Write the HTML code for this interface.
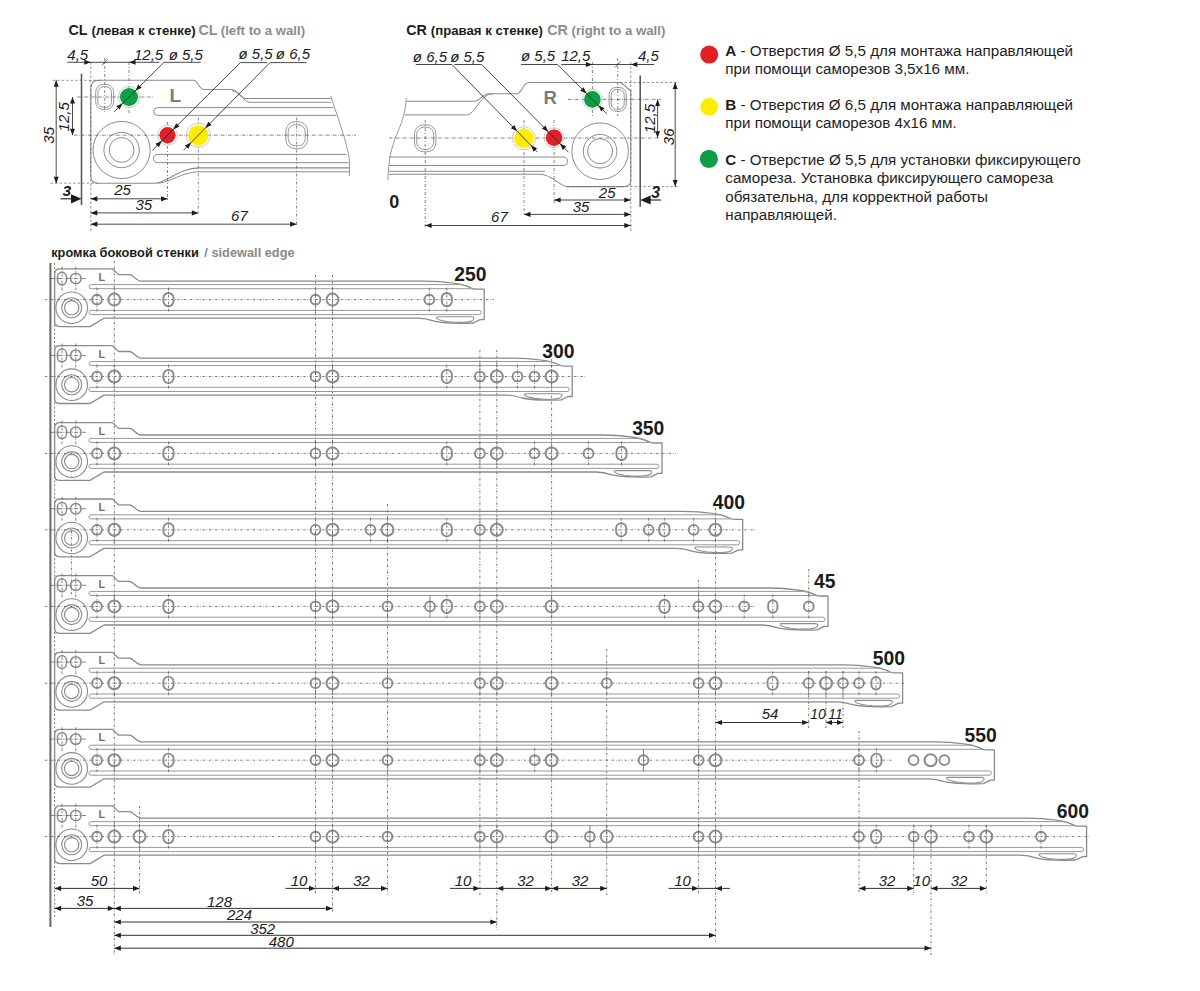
<!DOCTYPE html><html><head><meta charset="utf-8"><style>html,body{margin:0;padding:0;background:#fff;width:1200px;height:991px;overflow:hidden}svg{display:block}text{font-family:"Liberation Sans",sans-serif}</style></head><body>
<svg width="1200" height="991" viewBox="0 0 1200 991">
<rect width="1200" height="991" fill="#fff"/>
<line x1="54.6" y1="263" x2="54.6" y2="917" stroke="#555" stroke-width="0.8" stroke-dasharray="2.1 2"/>
<line x1="71.4" y1="531" x2="71.4" y2="595" stroke="#505050" stroke-width="0.8" stroke-dasharray="2.3 1.6 0.6 1.6"/>
<line x1="114.3" y1="261" x2="114.3" y2="956" stroke="#505050" stroke-width="0.8" stroke-dasharray="2.3 1.6 0.6 1.6"/>
<line x1="139.5" y1="806" x2="139.5" y2="895" stroke="#505050" stroke-width="0.8" stroke-dasharray="2.3 1.6 0.6 1.6"/>
<line x1="315.5" y1="275" x2="315.5" y2="895" stroke="#505050" stroke-width="0.8" stroke-dasharray="2.3 1.6 0.6 1.6"/>
<line x1="332.5" y1="275" x2="332.5" y2="912" stroke="#505050" stroke-width="0.8" stroke-dasharray="2.3 1.6 0.6 1.6"/>
<line x1="387.5" y1="504" x2="387.5" y2="895" stroke="#505050" stroke-width="0.8" stroke-dasharray="2.3 1.6 0.6 1.6"/>
<line x1="479.9" y1="350" x2="479.9" y2="895" stroke="#505050" stroke-width="0.8" stroke-dasharray="2.3 1.6 0.6 1.6"/>
<line x1="496.8" y1="350" x2="496.8" y2="930" stroke="#505050" stroke-width="0.8" stroke-dasharray="2.3 1.6 0.6 1.6"/>
<line x1="551.6" y1="359" x2="551.6" y2="895" stroke="#505050" stroke-width="0.8" stroke-dasharray="2.3 1.6 0.6 1.6"/>
<line x1="606.7" y1="649" x2="606.7" y2="895" stroke="#505050" stroke-width="0.8" stroke-dasharray="2.3 1.6 0.6 1.6"/>
<line x1="698.6" y1="580" x2="698.6" y2="895" stroke="#505050" stroke-width="0.8" stroke-dasharray="2.3 1.6 0.6 1.6"/>
<line x1="715.5" y1="508" x2="715.5" y2="942" stroke="#505050" stroke-width="0.8" stroke-dasharray="2.3 1.6 0.6 1.6"/>
<line x1="808.7" y1="569" x2="808.7" y2="598" stroke="#505050" stroke-width="0.8" stroke-dasharray="2.3 1.6 0.6 1.6"/>
<line x1="808.7" y1="671" x2="808.7" y2="728" stroke="#505050" stroke-width="0.8" stroke-dasharray="2.3 1.6 0.6 1.6"/>
<line x1="826" y1="671" x2="826" y2="728" stroke="#505050" stroke-width="0.8" stroke-dasharray="2.3 1.6 0.6 1.6"/>
<line x1="843" y1="671" x2="843" y2="728" stroke="#505050" stroke-width="0.8" stroke-dasharray="2.3 1.6 0.6 1.6"/>
<line x1="859" y1="731" x2="859" y2="893" stroke="#505050" stroke-width="0.8" stroke-dasharray="2.3 1.6 0.6 1.6"/>
<line x1="913.7" y1="825" x2="913.7" y2="893" stroke="#505050" stroke-width="0.8" stroke-dasharray="2.3 1.6 0.6 1.6"/>
<line x1="931" y1="825" x2="931" y2="955" stroke="#505050" stroke-width="0.8" stroke-dasharray="2.3 1.6 0.6 1.6"/>
<line x1="986.3" y1="825" x2="986.3" y2="893" stroke="#505050" stroke-width="0.8" stroke-dasharray="2.3 1.6 0.6 1.6"/>
<line x1="50.4" y1="263" x2="50.4" y2="927" stroke="#6a6a6a" stroke-width="2"/>
<path d="M54.6,274.1 Q54.6,268.8 60,268.8 L112.5,268.8 L118.5,274.6 L129,274.6 C134,274.6 136,281.2 141,281.2 L424.2,281.2 C449.2,281.6 464.2,284.6 470.2,287.6 Q473.2,289.2 476.2,289.2 L484.2,289.2 L484.2,319.6 L480.2,319.6 L473.2,323 C459.2,323.6 444.2,323.1 434.2,321.1 C428.2,319.1 424.2,318.2 418.2,318.2 L104,318.2 L90,326.6 L60,326.6 Q54.6,326.6 54.6,321.6 Z" stroke="#8a8a8a" stroke-width="1.3" fill="none" stroke-linejoin="round"/>
<path d="M463.2,284.6 L91,284.6 Q89,284.6 89,286.7 Q89,288.7 91,288.7 L473.2,288.7" stroke="#999" stroke-width="1.0" fill="none" stroke-linejoin="round"/>
<path d="M91,310.4 L479.2,310.4 Q481.2,310.4 481.2,312.5 Q481.2,314.6 479.2,314.6 L91,314.6 Q89,314.6 89,312.5 Q89,310.4 91,310.4 Z" stroke="#999" stroke-width="1.0" fill="none" stroke-linejoin="round"/>
<path d="M438.2,316.8 L471.2,316.8 Q476.2,317.2 472.2,320.8 Q468.2,322.8 454.2,322.2 Q440.2,321.2 437.2,318.6 Q435.2,316.8 438.2,316.8 Z" stroke="#8e8e8e" stroke-width="1.1" fill="none" stroke-linejoin="round"/>
<circle cx="71.7" cy="307.8" r="15.8" stroke="#8a8a8a" stroke-width="1.1" fill="none"/>
<circle cx="71.7" cy="307.8" r="10" stroke="#8a8a8a" stroke-width="1.1" fill="none"/>
<circle cx="71.7" cy="307.8" r="7.2" stroke="#8a8a8a" stroke-width="1.1" fill="none"/>
<rect x="57.5" y="272.2" width="9" height="12.6" rx="4.5" ry="4.5" stroke="#8a8a8a" stroke-width="1.5" fill="none"/>
<circle cx="75.8" cy="278.5" r="5.3" stroke="#8a8a8a" stroke-width="1.5" fill="none"/>
<line x1="50" y1="278.5" x2="87" y2="278.5" stroke="#555" stroke-width="0.7" stroke-dasharray="4 1.5 1 1.5"/>
<line x1="62" y1="266.6" x2="62" y2="290.6" stroke="#555" stroke-width="0.7" stroke-dasharray="3 1.5 1 1.5"/>
<line x1="75.8" y1="266.6" x2="75.8" y2="290.6" stroke="#555" stroke-width="0.7" stroke-dasharray="3 1.5 1 1.5"/>
<text x="98.6" y="280.8" font-size="10.8" font-weight="bold" font-style="normal" fill="#707070" text-anchor="start" >L</text>
<line x1="45" y1="299.6" x2="494" y2="299.6" stroke="#555" stroke-width="0.8" stroke-dasharray="2.3 1.7 0.6 1.7"/>
<circle cx="97" cy="299.6" r="4.9" stroke="#8a8a8a" stroke-width="1.9" fill="none"/>
<line x1="97" y1="287.6" x2="97" y2="311.6" stroke="#555" stroke-width="0.7" stroke-dasharray="3 1.5 1 1.5"/>
<circle cx="114.3" cy="299.6" r="6" stroke="#8a8a8a" stroke-width="2.0" fill="none"/>
<line x1="114.3" y1="287.6" x2="114.3" y2="311.6" stroke="#555" stroke-width="0.7" stroke-dasharray="3 1.5 1 1.5"/>
<rect x="163.4" y="293" width="10.2" height="13.2" rx="5.1" ry="5.1" stroke="#8a8a8a" stroke-width="1.9" fill="none"/>
<line x1="168.5" y1="287.6" x2="168.5" y2="311.6" stroke="#555" stroke-width="0.7" stroke-dasharray="3 1.5 1 1.5"/>
<circle cx="315.5" cy="299.6" r="4.9" stroke="#8a8a8a" stroke-width="1.9" fill="none"/>
<line x1="315.5" y1="287.6" x2="315.5" y2="311.6" stroke="#555" stroke-width="0.7" stroke-dasharray="3 1.5 1 1.5"/>
<circle cx="332.5" cy="299.6" r="6" stroke="#8a8a8a" stroke-width="2.0" fill="none"/>
<line x1="332.5" y1="287.6" x2="332.5" y2="311.6" stroke="#555" stroke-width="0.7" stroke-dasharray="3 1.5 1 1.5"/>
<circle cx="429.3" cy="299.6" r="4.9" stroke="#8a8a8a" stroke-width="1.9" fill="none"/>
<line x1="429.3" y1="287.6" x2="429.3" y2="311.6" stroke="#555" stroke-width="0.7" stroke-dasharray="3 1.5 1 1.5"/>
<rect x="441.7" y="293" width="10.2" height="13.2" rx="5.1" ry="5.1" stroke="#8a8a8a" stroke-width="1.9" fill="none"/>
<line x1="446.8" y1="287.6" x2="446.8" y2="311.6" stroke="#555" stroke-width="0.7" stroke-dasharray="3 1.5 1 1.5"/>
<text x="486.5" y="280.7" font-size="19.3" font-weight="bold" font-style="normal" fill="#1c1c1c" text-anchor="end" >250</text>
<path d="M54.6,351 Q54.6,345.7 60,345.7 L112.5,345.7 L118.5,351.5 L129,351.5 C134,351.5 136,358.1 141,358.1 L512.2,358.1 C537.2,358.5 552.2,361.5 558.2,364.5 Q561.2,366.1 564.2,366.1 L572.2,366.1 L572.2,396.5 L568.2,396.5 L561.2,399.9 C547.2,400.5 532.2,400 522.2,398 C516.2,396 512.2,395.1 506.2,395.1 L104,395.1 L90,403.5 L60,403.5 Q54.6,403.5 54.6,398.5 Z" stroke="#8a8a8a" stroke-width="1.3" fill="none" stroke-linejoin="round"/>
<path d="M551.2,361.5 L91,361.5 Q89,361.5 89,363.6 Q89,365.6 91,365.6 L561.2,365.6" stroke="#999" stroke-width="1.0" fill="none" stroke-linejoin="round"/>
<path d="M91,387.3 L567.2,387.3 Q569.2,387.3 569.2,389.4 Q569.2,391.5 567.2,391.5 L91,391.5 Q89,391.5 89,389.4 Q89,387.3 91,387.3 Z" stroke="#999" stroke-width="1.0" fill="none" stroke-linejoin="round"/>
<path d="M526.2,393.7 L559.2,393.7 Q564.2,394.1 560.2,397.7 Q556.2,399.7 542.2,399.1 Q528.2,398.1 525.2,395.5 Q523.2,393.7 526.2,393.7 Z" stroke="#8e8e8e" stroke-width="1.1" fill="none" stroke-linejoin="round"/>
<circle cx="71.7" cy="384.7" r="15.8" stroke="#8a8a8a" stroke-width="1.1" fill="none"/>
<circle cx="71.7" cy="384.7" r="10" stroke="#8a8a8a" stroke-width="1.1" fill="none"/>
<circle cx="71.7" cy="384.7" r="7.2" stroke="#8a8a8a" stroke-width="1.1" fill="none"/>
<rect x="57.5" y="349.1" width="9" height="12.6" rx="4.5" ry="4.5" stroke="#8a8a8a" stroke-width="1.5" fill="none"/>
<circle cx="75.8" cy="355.4" r="5.3" stroke="#8a8a8a" stroke-width="1.5" fill="none"/>
<line x1="50" y1="355.4" x2="87" y2="355.4" stroke="#555" stroke-width="0.7" stroke-dasharray="4 1.5 1 1.5"/>
<line x1="62" y1="343.5" x2="62" y2="367.5" stroke="#555" stroke-width="0.7" stroke-dasharray="3 1.5 1 1.5"/>
<line x1="75.8" y1="343.5" x2="75.8" y2="367.5" stroke="#555" stroke-width="0.7" stroke-dasharray="3 1.5 1 1.5"/>
<text x="98.6" y="357.7" font-size="10.8" font-weight="bold" font-style="normal" fill="#707070" text-anchor="start" >L</text>
<line x1="45" y1="376.5" x2="586" y2="376.5" stroke="#555" stroke-width="0.8" stroke-dasharray="2.3 1.7 0.6 1.7"/>
<circle cx="97" cy="376.5" r="4.9" stroke="#8a8a8a" stroke-width="1.9" fill="none"/>
<line x1="97" y1="364.5" x2="97" y2="388.5" stroke="#555" stroke-width="0.7" stroke-dasharray="3 1.5 1 1.5"/>
<circle cx="114.3" cy="376.5" r="6" stroke="#8a8a8a" stroke-width="2.0" fill="none"/>
<line x1="114.3" y1="364.5" x2="114.3" y2="388.5" stroke="#555" stroke-width="0.7" stroke-dasharray="3 1.5 1 1.5"/>
<rect x="163.4" y="369.9" width="10.2" height="13.2" rx="5.1" ry="5.1" stroke="#8a8a8a" stroke-width="1.9" fill="none"/>
<line x1="168.5" y1="364.5" x2="168.5" y2="388.5" stroke="#555" stroke-width="0.7" stroke-dasharray="3 1.5 1 1.5"/>
<circle cx="315.5" cy="376.5" r="4.9" stroke="#8a8a8a" stroke-width="1.9" fill="none"/>
<line x1="315.5" y1="364.5" x2="315.5" y2="388.5" stroke="#555" stroke-width="0.7" stroke-dasharray="3 1.5 1 1.5"/>
<circle cx="332.5" cy="376.5" r="6" stroke="#8a8a8a" stroke-width="2.0" fill="none"/>
<line x1="332.5" y1="364.5" x2="332.5" y2="388.5" stroke="#555" stroke-width="0.7" stroke-dasharray="3 1.5 1 1.5"/>
<rect x="441.7" y="369.9" width="10.2" height="13.2" rx="5.1" ry="5.1" stroke="#8a8a8a" stroke-width="1.9" fill="none"/>
<line x1="446.8" y1="364.5" x2="446.8" y2="388.5" stroke="#555" stroke-width="0.7" stroke-dasharray="3 1.5 1 1.5"/>
<circle cx="479.9" cy="376.5" r="4.9" stroke="#8a8a8a" stroke-width="1.9" fill="none"/>
<line x1="479.9" y1="364.5" x2="479.9" y2="388.5" stroke="#555" stroke-width="0.7" stroke-dasharray="3 1.5 1 1.5"/>
<circle cx="496.8" cy="376.5" r="6" stroke="#8a8a8a" stroke-width="2.0" fill="none"/>
<line x1="496.8" y1="364.5" x2="496.8" y2="388.5" stroke="#555" stroke-width="0.7" stroke-dasharray="3 1.5 1 1.5"/>
<circle cx="517.5" cy="376.5" r="4.9" stroke="#8a8a8a" stroke-width="1.9" fill="none"/>
<line x1="517.5" y1="364.5" x2="517.5" y2="388.5" stroke="#555" stroke-width="0.7" stroke-dasharray="3 1.5 1 1.5"/>
<circle cx="534.5" cy="376.5" r="4.9" stroke="#8a8a8a" stroke-width="1.9" fill="none"/>
<line x1="534.5" y1="364.5" x2="534.5" y2="388.5" stroke="#555" stroke-width="0.7" stroke-dasharray="3 1.5 1 1.5"/>
<circle cx="551.6" cy="376.5" r="6" stroke="#8a8a8a" stroke-width="2.0" fill="none"/>
<line x1="551.6" y1="364.5" x2="551.6" y2="388.5" stroke="#555" stroke-width="0.7" stroke-dasharray="3 1.5 1 1.5"/>
<text x="574.5" y="357.6" font-size="19.3" font-weight="bold" font-style="normal" fill="#1c1c1c" text-anchor="end" >300</text>
<path d="M54.6,427.9 Q54.6,422.6 60,422.6 L112.5,422.6 L118.5,428.4 L129,428.4 C134,428.4 136,435 141,435 L602,435 C627,435.4 642,438.4 648,441.4 Q651,443 654,443 L662,443 L662,473.4 L658,473.4 L651,476.8 C637,477.4 622,476.9 612,474.9 C606,472.9 602,472 596,472 L104,472 L90,480.4 L60,480.4 Q54.6,480.4 54.6,475.4 Z" stroke="#8a8a8a" stroke-width="1.3" fill="none" stroke-linejoin="round"/>
<path d="M641,438.4 L91,438.4 Q89,438.4 89,440.5 Q89,442.5 91,442.5 L651,442.5" stroke="#999" stroke-width="1.0" fill="none" stroke-linejoin="round"/>
<path d="M91,464.2 L657,464.2 Q659,464.2 659,466.3 Q659,468.4 657,468.4 L91,468.4 Q89,468.4 89,466.3 Q89,464.2 91,464.2 Z" stroke="#999" stroke-width="1.0" fill="none" stroke-linejoin="round"/>
<path d="M616,470.6 L649,470.6 Q654,471 650,474.6 Q646,476.6 632,476 Q618,475 615,472.4 Q613,470.6 616,470.6 Z" stroke="#8e8e8e" stroke-width="1.1" fill="none" stroke-linejoin="round"/>
<circle cx="71.7" cy="461.6" r="15.8" stroke="#8a8a8a" stroke-width="1.1" fill="none"/>
<circle cx="71.7" cy="461.6" r="10" stroke="#8a8a8a" stroke-width="1.1" fill="none"/>
<circle cx="71.7" cy="461.6" r="7.2" stroke="#8a8a8a" stroke-width="1.1" fill="none"/>
<rect x="57.5" y="426" width="9" height="12.6" rx="4.5" ry="4.5" stroke="#8a8a8a" stroke-width="1.5" fill="none"/>
<circle cx="75.8" cy="432.3" r="5.3" stroke="#8a8a8a" stroke-width="1.5" fill="none"/>
<line x1="50" y1="432.3" x2="87" y2="432.3" stroke="#555" stroke-width="0.7" stroke-dasharray="4 1.5 1 1.5"/>
<line x1="62" y1="420.4" x2="62" y2="444.4" stroke="#555" stroke-width="0.7" stroke-dasharray="3 1.5 1 1.5"/>
<line x1="75.8" y1="420.4" x2="75.8" y2="444.4" stroke="#555" stroke-width="0.7" stroke-dasharray="3 1.5 1 1.5"/>
<text x="98.6" y="434.6" font-size="10.8" font-weight="bold" font-style="normal" fill="#707070" text-anchor="start" >L</text>
<line x1="45" y1="453.4" x2="676" y2="453.4" stroke="#555" stroke-width="0.8" stroke-dasharray="2.3 1.7 0.6 1.7"/>
<circle cx="97" cy="453.4" r="4.9" stroke="#8a8a8a" stroke-width="1.9" fill="none"/>
<line x1="97" y1="441.4" x2="97" y2="465.4" stroke="#555" stroke-width="0.7" stroke-dasharray="3 1.5 1 1.5"/>
<circle cx="114.3" cy="453.4" r="6" stroke="#8a8a8a" stroke-width="2.0" fill="none"/>
<line x1="114.3" y1="441.4" x2="114.3" y2="465.4" stroke="#555" stroke-width="0.7" stroke-dasharray="3 1.5 1 1.5"/>
<rect x="163.4" y="446.8" width="10.2" height="13.2" rx="5.1" ry="5.1" stroke="#8a8a8a" stroke-width="1.9" fill="none"/>
<line x1="168.5" y1="441.4" x2="168.5" y2="465.4" stroke="#555" stroke-width="0.7" stroke-dasharray="3 1.5 1 1.5"/>
<circle cx="315.5" cy="453.4" r="4.9" stroke="#8a8a8a" stroke-width="1.9" fill="none"/>
<line x1="315.5" y1="441.4" x2="315.5" y2="465.4" stroke="#555" stroke-width="0.7" stroke-dasharray="3 1.5 1 1.5"/>
<circle cx="332.5" cy="453.4" r="6" stroke="#8a8a8a" stroke-width="2.0" fill="none"/>
<line x1="332.5" y1="441.4" x2="332.5" y2="465.4" stroke="#555" stroke-width="0.7" stroke-dasharray="3 1.5 1 1.5"/>
<rect x="441.7" y="446.8" width="10.2" height="13.2" rx="5.1" ry="5.1" stroke="#8a8a8a" stroke-width="1.9" fill="none"/>
<line x1="446.8" y1="441.4" x2="446.8" y2="465.4" stroke="#555" stroke-width="0.7" stroke-dasharray="3 1.5 1 1.5"/>
<circle cx="479.9" cy="453.4" r="4.9" stroke="#8a8a8a" stroke-width="1.9" fill="none"/>
<line x1="479.9" y1="441.4" x2="479.9" y2="465.4" stroke="#555" stroke-width="0.7" stroke-dasharray="3 1.5 1 1.5"/>
<circle cx="496.8" cy="453.4" r="6" stroke="#8a8a8a" stroke-width="2.0" fill="none"/>
<line x1="496.8" y1="441.4" x2="496.8" y2="465.4" stroke="#555" stroke-width="0.7" stroke-dasharray="3 1.5 1 1.5"/>
<circle cx="534.5" cy="453.4" r="4.9" stroke="#8a8a8a" stroke-width="1.9" fill="none"/>
<line x1="534.5" y1="441.4" x2="534.5" y2="465.4" stroke="#555" stroke-width="0.7" stroke-dasharray="3 1.5 1 1.5"/>
<circle cx="551.6" cy="453.4" r="6" stroke="#8a8a8a" stroke-width="2.0" fill="none"/>
<line x1="551.6" y1="441.4" x2="551.6" y2="465.4" stroke="#555" stroke-width="0.7" stroke-dasharray="3 1.5 1 1.5"/>
<circle cx="588.5" cy="453.4" r="4.9" stroke="#8a8a8a" stroke-width="1.9" fill="none"/>
<line x1="588.5" y1="441.4" x2="588.5" y2="465.4" stroke="#555" stroke-width="0.7" stroke-dasharray="3 1.5 1 1.5"/>
<rect x="616.4" y="446.8" width="10.2" height="13.2" rx="5.1" ry="5.1" stroke="#8a8a8a" stroke-width="1.9" fill="none"/>
<line x1="621.5" y1="441.4" x2="621.5" y2="465.4" stroke="#555" stroke-width="0.7" stroke-dasharray="3 1.5 1 1.5"/>
<text x="664.3" y="434.5" font-size="19.3" font-weight="bold" font-style="normal" fill="#1c1c1c" text-anchor="end" >350</text>
<path d="M54.6,504.3 Q54.6,499 60,499 L112.5,499 L118.5,504.8 L129,504.8 C134,504.8 136,511.4 141,511.4 L682.7,511.4 C707.7,511.8 722.7,514.8 728.7,517.8 Q731.7,519.4 734.7,519.4 L742.7,519.4 L742.7,549.8 L738.7,549.8 L731.7,553.2 C717.7,553.8 702.7,553.3 692.7,551.3 C686.7,549.3 682.7,548.4 676.7,548.4 L104,548.4 L90,556.8 L60,556.8 Q54.6,556.8 54.6,551.8 Z" stroke="#8a8a8a" stroke-width="1.3" fill="none" stroke-linejoin="round"/>
<path d="M721.7,514.8 L91,514.8 Q89,514.8 89,516.9 Q89,518.9 91,518.9 L731.7,518.9" stroke="#999" stroke-width="1.0" fill="none" stroke-linejoin="round"/>
<path d="M91,540.6 L737.7,540.6 Q739.7,540.6 739.7,542.7 Q739.7,544.8 737.7,544.8 L91,544.8 Q89,544.8 89,542.7 Q89,540.6 91,540.6 Z" stroke="#999" stroke-width="1.0" fill="none" stroke-linejoin="round"/>
<path d="M696.7,547 L729.7,547 Q734.7,547.4 730.7,551 Q726.7,553 712.7,552.4 Q698.7,551.4 695.7,548.8 Q693.7,547 696.7,547 Z" stroke="#8e8e8e" stroke-width="1.1" fill="none" stroke-linejoin="round"/>
<circle cx="71.7" cy="538" r="15.8" stroke="#8a8a8a" stroke-width="1.1" fill="none"/>
<circle cx="71.7" cy="538" r="10" stroke="#8a8a8a" stroke-width="1.1" fill="none"/>
<circle cx="71.7" cy="538" r="7.2" stroke="#8a8a8a" stroke-width="1.1" fill="none"/>
<rect x="57.5" y="502.4" width="9" height="12.6" rx="4.5" ry="4.5" stroke="#8a8a8a" stroke-width="1.5" fill="none"/>
<circle cx="75.8" cy="508.7" r="5.3" stroke="#8a8a8a" stroke-width="1.5" fill="none"/>
<line x1="50" y1="508.7" x2="87" y2="508.7" stroke="#555" stroke-width="0.7" stroke-dasharray="4 1.5 1 1.5"/>
<line x1="62" y1="496.8" x2="62" y2="520.8" stroke="#555" stroke-width="0.7" stroke-dasharray="3 1.5 1 1.5"/>
<line x1="75.8" y1="496.8" x2="75.8" y2="520.8" stroke="#555" stroke-width="0.7" stroke-dasharray="3 1.5 1 1.5"/>
<text x="98.6" y="511" font-size="10.8" font-weight="bold" font-style="normal" fill="#707070" text-anchor="start" >L</text>
<line x1="45" y1="529.8" x2="757" y2="529.8" stroke="#555" stroke-width="0.8" stroke-dasharray="2.3 1.7 0.6 1.7"/>
<circle cx="97" cy="529.8" r="4.9" stroke="#8a8a8a" stroke-width="1.9" fill="none"/>
<line x1="97" y1="517.8" x2="97" y2="541.8" stroke="#555" stroke-width="0.7" stroke-dasharray="3 1.5 1 1.5"/>
<circle cx="114.3" cy="529.8" r="6" stroke="#8a8a8a" stroke-width="2.0" fill="none"/>
<line x1="114.3" y1="517.8" x2="114.3" y2="541.8" stroke="#555" stroke-width="0.7" stroke-dasharray="3 1.5 1 1.5"/>
<rect x="163.4" y="523.2" width="10.2" height="13.2" rx="5.1" ry="5.1" stroke="#8a8a8a" stroke-width="1.9" fill="none"/>
<line x1="168.5" y1="517.8" x2="168.5" y2="541.8" stroke="#555" stroke-width="0.7" stroke-dasharray="3 1.5 1 1.5"/>
<circle cx="315.5" cy="529.8" r="4.9" stroke="#8a8a8a" stroke-width="1.9" fill="none"/>
<line x1="315.5" y1="517.8" x2="315.5" y2="541.8" stroke="#555" stroke-width="0.7" stroke-dasharray="3 1.5 1 1.5"/>
<circle cx="332.5" cy="529.8" r="6" stroke="#8a8a8a" stroke-width="2.0" fill="none"/>
<line x1="332.5" y1="517.8" x2="332.5" y2="541.8" stroke="#555" stroke-width="0.7" stroke-dasharray="3 1.5 1 1.5"/>
<circle cx="370.5" cy="529.8" r="4.9" stroke="#8a8a8a" stroke-width="1.9" fill="none"/>
<line x1="370.5" y1="517.8" x2="370.5" y2="541.8" stroke="#555" stroke-width="0.7" stroke-dasharray="3 1.5 1 1.5"/>
<circle cx="387.5" cy="529.8" r="6" stroke="#8a8a8a" stroke-width="2.0" fill="none"/>
<line x1="387.5" y1="517.8" x2="387.5" y2="541.8" stroke="#555" stroke-width="0.7" stroke-dasharray="3 1.5 1 1.5"/>
<rect x="441.7" y="523.2" width="10.2" height="13.2" rx="5.1" ry="5.1" stroke="#8a8a8a" stroke-width="1.9" fill="none"/>
<line x1="446.8" y1="517.8" x2="446.8" y2="541.8" stroke="#555" stroke-width="0.7" stroke-dasharray="3 1.5 1 1.5"/>
<circle cx="479.9" cy="529.8" r="4.9" stroke="#8a8a8a" stroke-width="1.9" fill="none"/>
<line x1="479.9" y1="517.8" x2="479.9" y2="541.8" stroke="#555" stroke-width="0.7" stroke-dasharray="3 1.5 1 1.5"/>
<circle cx="496.8" cy="529.8" r="6" stroke="#8a8a8a" stroke-width="2.0" fill="none"/>
<line x1="496.8" y1="517.8" x2="496.8" y2="541.8" stroke="#555" stroke-width="0.7" stroke-dasharray="3 1.5 1 1.5"/>
<rect x="616.1" y="523.2" width="10.2" height="13.2" rx="5.1" ry="5.1" stroke="#8a8a8a" stroke-width="1.9" fill="none"/>
<line x1="621.2" y1="517.8" x2="621.2" y2="541.8" stroke="#555" stroke-width="0.7" stroke-dasharray="3 1.5 1 1.5"/>
<circle cx="648.7" cy="529.8" r="4.9" stroke="#8a8a8a" stroke-width="1.9" fill="none"/>
<line x1="648.7" y1="517.8" x2="648.7" y2="541.8" stroke="#555" stroke-width="0.7" stroke-dasharray="3 1.5 1 1.5"/>
<rect x="659.3" y="523.2" width="10.2" height="13.2" rx="5.1" ry="5.1" stroke="#8a8a8a" stroke-width="1.9" fill="none"/>
<line x1="664.4" y1="517.8" x2="664.4" y2="541.8" stroke="#555" stroke-width="0.7" stroke-dasharray="3 1.5 1 1.5"/>
<circle cx="693.7" cy="529.8" r="4.9" stroke="#8a8a8a" stroke-width="1.9" fill="none"/>
<line x1="693.7" y1="517.8" x2="693.7" y2="541.8" stroke="#555" stroke-width="0.7" stroke-dasharray="3 1.5 1 1.5"/>
<circle cx="715.4" cy="529.8" r="6" stroke="#8a8a8a" stroke-width="2.0" fill="none"/>
<line x1="715.4" y1="517.8" x2="715.4" y2="541.8" stroke="#555" stroke-width="0.7" stroke-dasharray="3 1.5 1 1.5"/>
<text x="745" y="509.4" font-size="19.3" font-weight="bold" font-style="normal" fill="#1c1c1c" text-anchor="end" >400</text>
<path d="M54.6,580.9 Q54.6,575.6 60,575.6 L112.5,575.6 L118.5,581.4 L129,581.4 C134,581.4 136,588 141,588 L768,588 C793,588.4 808,591.4 814,594.4 Q817,596 820,596 L828,596 L828,626.4 L824,626.4 L817,629.8 C803,630.4 788,629.9 778,627.9 C772,625.9 768,625 762,625 L104,625 L90,633.4 L60,633.4 Q54.6,633.4 54.6,628.4 Z" stroke="#8a8a8a" stroke-width="1.3" fill="none" stroke-linejoin="round"/>
<path d="M807,591.4 L91,591.4 Q89,591.4 89,593.5 Q89,595.5 91,595.5 L817,595.5" stroke="#999" stroke-width="1.0" fill="none" stroke-linejoin="round"/>
<path d="M91,617.2 L823,617.2 Q825,617.2 825,619.3 Q825,621.4 823,621.4 L91,621.4 Q89,621.4 89,619.3 Q89,617.2 91,617.2 Z" stroke="#999" stroke-width="1.0" fill="none" stroke-linejoin="round"/>
<path d="M782,623.6 L815,623.6 Q820,624 816,627.6 Q812,629.6 798,629 Q784,628 781,625.4 Q779,623.6 782,623.6 Z" stroke="#8e8e8e" stroke-width="1.1" fill="none" stroke-linejoin="round"/>
<circle cx="71.7" cy="614.6" r="15.8" stroke="#8a8a8a" stroke-width="1.1" fill="none"/>
<circle cx="71.7" cy="614.6" r="10" stroke="#8a8a8a" stroke-width="1.1" fill="none"/>
<circle cx="71.7" cy="614.6" r="7.2" stroke="#8a8a8a" stroke-width="1.1" fill="none"/>
<rect x="57.5" y="579" width="9" height="12.6" rx="4.5" ry="4.5" stroke="#8a8a8a" stroke-width="1.5" fill="none"/>
<circle cx="75.8" cy="585.3" r="5.3" stroke="#8a8a8a" stroke-width="1.5" fill="none"/>
<line x1="50" y1="585.3" x2="87" y2="585.3" stroke="#555" stroke-width="0.7" stroke-dasharray="4 1.5 1 1.5"/>
<line x1="62" y1="573.4" x2="62" y2="597.4" stroke="#555" stroke-width="0.7" stroke-dasharray="3 1.5 1 1.5"/>
<line x1="75.8" y1="573.4" x2="75.8" y2="597.4" stroke="#555" stroke-width="0.7" stroke-dasharray="3 1.5 1 1.5"/>
<text x="98.6" y="587.6" font-size="10.8" font-weight="bold" font-style="normal" fill="#707070" text-anchor="start" >L</text>
<line x1="45" y1="606.4" x2="755" y2="606.4" stroke="#555" stroke-width="0.8" stroke-dasharray="2.3 1.7 0.6 1.7"/>
<circle cx="97" cy="606.4" r="4.9" stroke="#8a8a8a" stroke-width="1.9" fill="none"/>
<line x1="97" y1="594.4" x2="97" y2="618.4" stroke="#555" stroke-width="0.7" stroke-dasharray="3 1.5 1 1.5"/>
<circle cx="114.3" cy="606.4" r="6" stroke="#8a8a8a" stroke-width="2.0" fill="none"/>
<line x1="114.3" y1="594.4" x2="114.3" y2="618.4" stroke="#555" stroke-width="0.7" stroke-dasharray="3 1.5 1 1.5"/>
<rect x="163.4" y="599.8" width="10.2" height="13.2" rx="5.1" ry="5.1" stroke="#8a8a8a" stroke-width="1.9" fill="none"/>
<line x1="168.5" y1="594.4" x2="168.5" y2="618.4" stroke="#555" stroke-width="0.7" stroke-dasharray="3 1.5 1 1.5"/>
<circle cx="315.5" cy="606.4" r="4.9" stroke="#8a8a8a" stroke-width="1.9" fill="none"/>
<line x1="315.5" y1="594.4" x2="315.5" y2="618.4" stroke="#555" stroke-width="0.7" stroke-dasharray="3 1.5 1 1.5"/>
<circle cx="332.5" cy="606.4" r="6" stroke="#8a8a8a" stroke-width="2.0" fill="none"/>
<line x1="332.5" y1="594.4" x2="332.5" y2="618.4" stroke="#555" stroke-width="0.7" stroke-dasharray="3 1.5 1 1.5"/>
<circle cx="387.5" cy="606.4" r="4.9" stroke="#8a8a8a" stroke-width="1.9" fill="none"/>
<line x1="387.5" y1="594.4" x2="387.5" y2="618.4" stroke="#555" stroke-width="0.7" stroke-dasharray="3 1.5 1 1.5"/>
<circle cx="430" cy="606.4" r="4.9" stroke="#8a8a8a" stroke-width="1.9" fill="none"/>
<line x1="430" y1="595.4" x2="430" y2="617.4" stroke="#666" stroke-width="0.8"/>
<rect x="441.7" y="599.8" width="10.2" height="13.2" rx="5.1" ry="5.1" stroke="#8a8a8a" stroke-width="1.9" fill="none"/>
<line x1="446.8" y1="594.4" x2="446.8" y2="618.4" stroke="#555" stroke-width="0.7" stroke-dasharray="3 1.5 1 1.5"/>
<circle cx="479.9" cy="606.4" r="4.9" stroke="#8a8a8a" stroke-width="1.9" fill="none"/>
<line x1="479.9" y1="594.4" x2="479.9" y2="618.4" stroke="#555" stroke-width="0.7" stroke-dasharray="3 1.5 1 1.5"/>
<circle cx="496.8" cy="606.4" r="6" stroke="#8a8a8a" stroke-width="2.0" fill="none"/>
<line x1="496.8" y1="594.4" x2="496.8" y2="618.4" stroke="#555" stroke-width="0.7" stroke-dasharray="3 1.5 1 1.5"/>
<circle cx="551.6" cy="606.4" r="6" stroke="#8a8a8a" stroke-width="2.0" fill="none"/>
<line x1="551.6" y1="594.4" x2="551.6" y2="618.4" stroke="#555" stroke-width="0.7" stroke-dasharray="3 1.5 1 1.5"/>
<rect x="659.4" y="599.8" width="10.2" height="13.2" rx="5.1" ry="5.1" stroke="#8a8a8a" stroke-width="1.9" fill="none"/>
<line x1="664.5" y1="594.4" x2="664.5" y2="618.4" stroke="#555" stroke-width="0.7" stroke-dasharray="3 1.5 1 1.5"/>
<circle cx="698.5" cy="606.4" r="4.9" stroke="#8a8a8a" stroke-width="1.9" fill="none"/>
<line x1="698.5" y1="594.4" x2="698.5" y2="618.4" stroke="#555" stroke-width="0.7" stroke-dasharray="3 1.5 1 1.5"/>
<circle cx="715.4" cy="606.4" r="6" stroke="#8a8a8a" stroke-width="2.0" fill="none"/>
<line x1="715.4" y1="594.4" x2="715.4" y2="618.4" stroke="#555" stroke-width="0.7" stroke-dasharray="3 1.5 1 1.5"/>
<circle cx="744.2" cy="606.4" r="4.9" stroke="#8a8a8a" stroke-width="1.9" fill="none"/>
<line x1="744.2" y1="594.4" x2="744.2" y2="618.4" stroke="#555" stroke-width="0.7" stroke-dasharray="3 1.5 1 1.5"/>
<rect x="768.2" y="600.2" width="9.2" height="12.4" rx="4.6" ry="4.6" stroke="#8a8a8a" stroke-width="1.9" fill="none"/>
<line x1="772.8" y1="594.4" x2="772.8" y2="618.4" stroke="#555" stroke-width="0.7" stroke-dasharray="3 1.5 1 1.5"/>
<circle cx="808.8" cy="606.4" r="4.9" stroke="#8a8a8a" stroke-width="1.9" fill="none"/>
<line x1="808.8" y1="594.4" x2="808.8" y2="618.4" stroke="#555" stroke-width="0.7" stroke-dasharray="3 1.5 1 1.5"/>
<text x="835.5" y="587.5" font-size="19.3" font-weight="bold" font-style="normal" fill="#1c1c1c" text-anchor="end" >45</text>
<path d="M54.6,657.7 Q54.6,652.4 60,652.4 L112.5,652.4 L118.5,658.2 L129,658.2 C134,658.2 136,664.8 141,664.8 L842.6,664.8 C867.6,665.2 882.6,668.2 888.6,671.2 Q891.6,672.8 894.6,672.8 L902.6,672.8 L902.6,703.2 L898.6,703.2 L891.6,706.6 C877.6,707.2 862.6,706.7 852.6,704.7 C846.6,702.7 842.6,701.8 836.6,701.8 L104,701.8 L90,710.2 L60,710.2 Q54.6,710.2 54.6,705.2 Z" stroke="#8a8a8a" stroke-width="1.3" fill="none" stroke-linejoin="round"/>
<path d="M881.6,668.2 L91,668.2 Q89,668.2 89,670.3 Q89,672.3 91,672.3 L891.6,672.3" stroke="#999" stroke-width="1.0" fill="none" stroke-linejoin="round"/>
<path d="M91,694 L897.6,694 Q899.6,694 899.6,696.1 Q899.6,698.2 897.6,698.2 L91,698.2 Q89,698.2 89,696.1 Q89,694 91,694 Z" stroke="#999" stroke-width="1.0" fill="none" stroke-linejoin="round"/>
<path d="M856.6,700.4 L889.6,700.4 Q894.6,700.8 890.6,704.4 Q886.6,706.4 872.6,705.8 Q858.6,704.8 855.6,702.2 Q853.6,700.4 856.6,700.4 Z" stroke="#8e8e8e" stroke-width="1.1" fill="none" stroke-linejoin="round"/>
<circle cx="71.7" cy="691.4" r="15.8" stroke="#8a8a8a" stroke-width="1.1" fill="none"/>
<circle cx="71.7" cy="691.4" r="10" stroke="#8a8a8a" stroke-width="1.1" fill="none"/>
<circle cx="71.7" cy="691.4" r="7.2" stroke="#8a8a8a" stroke-width="1.1" fill="none"/>
<rect x="57.5" y="655.8" width="9" height="12.6" rx="4.5" ry="4.5" stroke="#8a8a8a" stroke-width="1.5" fill="none"/>
<circle cx="75.8" cy="662.1" r="5.3" stroke="#8a8a8a" stroke-width="1.5" fill="none"/>
<line x1="50" y1="662.1" x2="87" y2="662.1" stroke="#555" stroke-width="0.7" stroke-dasharray="4 1.5 1 1.5"/>
<line x1="62" y1="650.2" x2="62" y2="674.2" stroke="#555" stroke-width="0.7" stroke-dasharray="3 1.5 1 1.5"/>
<line x1="75.8" y1="650.2" x2="75.8" y2="674.2" stroke="#555" stroke-width="0.7" stroke-dasharray="3 1.5 1 1.5"/>
<text x="98.6" y="664.4" font-size="10.8" font-weight="bold" font-style="normal" fill="#707070" text-anchor="start" >L</text>
<line x1="45" y1="683.2" x2="904" y2="683.2" stroke="#555" stroke-width="0.8" stroke-dasharray="2.3 1.7 0.6 1.7"/>
<circle cx="97" cy="683.2" r="4.9" stroke="#8a8a8a" stroke-width="1.9" fill="none"/>
<line x1="97" y1="671.2" x2="97" y2="695.2" stroke="#555" stroke-width="0.7" stroke-dasharray="3 1.5 1 1.5"/>
<circle cx="114.3" cy="683.2" r="6" stroke="#8a8a8a" stroke-width="2.0" fill="none"/>
<line x1="114.3" y1="671.2" x2="114.3" y2="695.2" stroke="#555" stroke-width="0.7" stroke-dasharray="3 1.5 1 1.5"/>
<rect x="163.4" y="676.6" width="10.2" height="13.2" rx="5.1" ry="5.1" stroke="#8a8a8a" stroke-width="1.9" fill="none"/>
<line x1="168.5" y1="671.2" x2="168.5" y2="695.2" stroke="#555" stroke-width="0.7" stroke-dasharray="3 1.5 1 1.5"/>
<circle cx="315.5" cy="683.2" r="4.9" stroke="#8a8a8a" stroke-width="1.9" fill="none"/>
<line x1="315.5" y1="671.2" x2="315.5" y2="695.2" stroke="#555" stroke-width="0.7" stroke-dasharray="3 1.5 1 1.5"/>
<circle cx="332.5" cy="683.2" r="6" stroke="#8a8a8a" stroke-width="2.0" fill="none"/>
<line x1="332.5" y1="671.2" x2="332.5" y2="695.2" stroke="#555" stroke-width="0.7" stroke-dasharray="3 1.5 1 1.5"/>
<circle cx="387.5" cy="683.2" r="4.9" stroke="#8a8a8a" stroke-width="1.9" fill="none"/>
<line x1="387.5" y1="671.2" x2="387.5" y2="695.2" stroke="#555" stroke-width="0.7" stroke-dasharray="3 1.5 1 1.5"/>
<circle cx="479.9" cy="683.2" r="4.9" stroke="#8a8a8a" stroke-width="1.9" fill="none"/>
<line x1="479.9" y1="671.2" x2="479.9" y2="695.2" stroke="#555" stroke-width="0.7" stroke-dasharray="3 1.5 1 1.5"/>
<circle cx="496.8" cy="683.2" r="6" stroke="#8a8a8a" stroke-width="2.0" fill="none"/>
<line x1="496.8" y1="671.2" x2="496.8" y2="695.2" stroke="#555" stroke-width="0.7" stroke-dasharray="3 1.5 1 1.5"/>
<circle cx="551.6" cy="683.2" r="6" stroke="#8a8a8a" stroke-width="2.0" fill="none"/>
<line x1="551.6" y1="671.2" x2="551.6" y2="695.2" stroke="#555" stroke-width="0.7" stroke-dasharray="3 1.5 1 1.5"/>
<circle cx="606.7" cy="683.2" r="4.9" stroke="#8a8a8a" stroke-width="1.9" fill="none"/>
<line x1="606.7" y1="671.2" x2="606.7" y2="695.2" stroke="#555" stroke-width="0.7" stroke-dasharray="3 1.5 1 1.5"/>
<circle cx="698.6" cy="683.2" r="4.9" stroke="#8a8a8a" stroke-width="1.9" fill="none"/>
<line x1="698.6" y1="671.2" x2="698.6" y2="695.2" stroke="#555" stroke-width="0.7" stroke-dasharray="3 1.5 1 1.5"/>
<circle cx="715.5" cy="683.2" r="6" stroke="#8a8a8a" stroke-width="2.0" fill="none"/>
<line x1="715.5" y1="671.2" x2="715.5" y2="695.2" stroke="#555" stroke-width="0.7" stroke-dasharray="3 1.5 1 1.5"/>
<rect x="767.5" y="676.6" width="10.2" height="13.2" rx="5.1" ry="5.1" stroke="#8a8a8a" stroke-width="1.9" fill="none"/>
<line x1="772.6" y1="671.2" x2="772.6" y2="695.2" stroke="#555" stroke-width="0.7" stroke-dasharray="3 1.5 1 1.5"/>
<circle cx="808.6" cy="683.2" r="4.9" stroke="#8a8a8a" stroke-width="1.9" fill="none"/>
<line x1="808.6" y1="671.2" x2="808.6" y2="695.2" stroke="#555" stroke-width="0.7" stroke-dasharray="3 1.5 1 1.5"/>
<circle cx="826" cy="683.2" r="6" stroke="#8a8a8a" stroke-width="2.0" fill="none"/>
<line x1="826" y1="671.2" x2="826" y2="695.2" stroke="#555" stroke-width="0.7" stroke-dasharray="3 1.5 1 1.5"/>
<circle cx="843" cy="683.2" r="4.9" stroke="#8a8a8a" stroke-width="1.9" fill="none"/>
<line x1="843" y1="671.2" x2="843" y2="695.2" stroke="#555" stroke-width="0.7" stroke-dasharray="3 1.5 1 1.5"/>
<circle cx="859" cy="683.2" r="4.9" stroke="#8a8a8a" stroke-width="1.9" fill="none"/>
<line x1="859" y1="671.2" x2="859" y2="695.2" stroke="#555" stroke-width="0.7" stroke-dasharray="3 1.5 1 1.5"/>
<rect x="871.4" y="677" width="9.2" height="12.4" rx="4.6" ry="4.6" stroke="#8a8a8a" stroke-width="1.9" fill="none"/>
<line x1="876" y1="671.2" x2="876" y2="695.2" stroke="#555" stroke-width="0.7" stroke-dasharray="3 1.5 1 1.5"/>
<text x="904.9" y="665.3" font-size="19.3" font-weight="bold" font-style="normal" fill="#1c1c1c" text-anchor="end" >500</text>
<path d="M54.6,734.7 Q54.6,729.4 60,729.4 L112.5,729.4 L118.5,735.2 L129,735.2 C134,735.2 136,741.8 141,741.8 L934.4,741.8 C959.4,742.2 974.4,745.2 980.4,748.2 Q983.4,749.8 986.4,749.8 L994.4,749.8 L994.4,780.2 L990.4,780.2 L983.4,783.6 C969.4,784.2 954.4,783.7 944.4,781.7 C938.4,779.7 934.4,778.8 928.4,778.8 L104,778.8 L90,787.2 L60,787.2 Q54.6,787.2 54.6,782.2 Z" stroke="#8a8a8a" stroke-width="1.3" fill="none" stroke-linejoin="round"/>
<path d="M973.4,745.2 L91,745.2 Q89,745.2 89,747.3 Q89,749.3 91,749.3 L983.4,749.3" stroke="#999" stroke-width="1.0" fill="none" stroke-linejoin="round"/>
<path d="M91,771 L989.4,771 Q991.4,771 991.4,773.1 Q991.4,775.2 989.4,775.2 L91,775.2 Q89,775.2 89,773.1 Q89,771 91,771 Z" stroke="#999" stroke-width="1.0" fill="none" stroke-linejoin="round"/>
<path d="M948.4,777.4 L981.4,777.4 Q986.4,777.8 982.4,781.4 Q978.4,783.4 964.4,782.8 Q950.4,781.8 947.4,779.2 Q945.4,777.4 948.4,777.4 Z" stroke="#8e8e8e" stroke-width="1.1" fill="none" stroke-linejoin="round"/>
<circle cx="71.7" cy="768.4" r="15.8" stroke="#8a8a8a" stroke-width="1.1" fill="none"/>
<circle cx="71.7" cy="768.4" r="10" stroke="#8a8a8a" stroke-width="1.1" fill="none"/>
<circle cx="71.7" cy="768.4" r="7.2" stroke="#8a8a8a" stroke-width="1.1" fill="none"/>
<rect x="57.5" y="732.8" width="9" height="12.6" rx="4.5" ry="4.5" stroke="#8a8a8a" stroke-width="1.5" fill="none"/>
<circle cx="75.8" cy="739.1" r="5.3" stroke="#8a8a8a" stroke-width="1.5" fill="none"/>
<line x1="50" y1="739.1" x2="87" y2="739.1" stroke="#555" stroke-width="0.7" stroke-dasharray="4 1.5 1 1.5"/>
<line x1="62" y1="727.2" x2="62" y2="751.2" stroke="#555" stroke-width="0.7" stroke-dasharray="3 1.5 1 1.5"/>
<line x1="75.8" y1="727.2" x2="75.8" y2="751.2" stroke="#555" stroke-width="0.7" stroke-dasharray="3 1.5 1 1.5"/>
<text x="98.6" y="741.4" font-size="10.8" font-weight="bold" font-style="normal" fill="#707070" text-anchor="start" >L</text>
<line x1="45" y1="760.2" x2="892" y2="760.2" stroke="#555" stroke-width="0.8" stroke-dasharray="2.3 1.7 0.6 1.7"/>
<circle cx="97" cy="760.2" r="4.9" stroke="#8a8a8a" stroke-width="1.9" fill="none"/>
<line x1="97" y1="748.2" x2="97" y2="772.2" stroke="#555" stroke-width="0.7" stroke-dasharray="3 1.5 1 1.5"/>
<circle cx="114.3" cy="760.2" r="6" stroke="#8a8a8a" stroke-width="2.0" fill="none"/>
<line x1="114.3" y1="748.2" x2="114.3" y2="772.2" stroke="#555" stroke-width="0.7" stroke-dasharray="3 1.5 1 1.5"/>
<rect x="163.4" y="753.6" width="10.2" height="13.2" rx="5.1" ry="5.1" stroke="#8a8a8a" stroke-width="1.9" fill="none"/>
<line x1="168.5" y1="748.2" x2="168.5" y2="772.2" stroke="#555" stroke-width="0.7" stroke-dasharray="3 1.5 1 1.5"/>
<circle cx="315.5" cy="760.2" r="4.9" stroke="#8a8a8a" stroke-width="1.9" fill="none"/>
<line x1="315.5" y1="748.2" x2="315.5" y2="772.2" stroke="#555" stroke-width="0.7" stroke-dasharray="3 1.5 1 1.5"/>
<circle cx="332.5" cy="760.2" r="6" stroke="#8a8a8a" stroke-width="2.0" fill="none"/>
<line x1="332.5" y1="748.2" x2="332.5" y2="772.2" stroke="#555" stroke-width="0.7" stroke-dasharray="3 1.5 1 1.5"/>
<circle cx="387.5" cy="760.2" r="4.9" stroke="#8a8a8a" stroke-width="1.9" fill="none"/>
<line x1="387.5" y1="748.2" x2="387.5" y2="772.2" stroke="#555" stroke-width="0.7" stroke-dasharray="3 1.5 1 1.5"/>
<circle cx="479.9" cy="760.2" r="4.9" stroke="#8a8a8a" stroke-width="1.9" fill="none"/>
<line x1="479.9" y1="748.2" x2="479.9" y2="772.2" stroke="#555" stroke-width="0.7" stroke-dasharray="3 1.5 1 1.5"/>
<circle cx="496.8" cy="760.2" r="6" stroke="#8a8a8a" stroke-width="2.0" fill="none"/>
<line x1="496.8" y1="748.2" x2="496.8" y2="772.2" stroke="#555" stroke-width="0.7" stroke-dasharray="3 1.5 1 1.5"/>
<circle cx="534.7" cy="760.2" r="4.9" stroke="#8a8a8a" stroke-width="1.9" fill="none"/>
<line x1="534.7" y1="748.2" x2="534.7" y2="772.2" stroke="#555" stroke-width="0.7" stroke-dasharray="3 1.5 1 1.5"/>
<circle cx="551.6" cy="760.2" r="6" stroke="#8a8a8a" stroke-width="2.0" fill="none"/>
<line x1="551.6" y1="748.2" x2="551.6" y2="772.2" stroke="#555" stroke-width="0.7" stroke-dasharray="3 1.5 1 1.5"/>
<circle cx="643.5" cy="760.2" r="4.9" stroke="#8a8a8a" stroke-width="1.9" fill="none"/>
<line x1="643.5" y1="749.2" x2="643.5" y2="771.2" stroke="#666" stroke-width="0.8"/>
<circle cx="698.6" cy="760.2" r="4.9" stroke="#8a8a8a" stroke-width="1.9" fill="none"/>
<line x1="698.6" y1="748.2" x2="698.6" y2="772.2" stroke="#555" stroke-width="0.7" stroke-dasharray="3 1.5 1 1.5"/>
<circle cx="715.5" cy="760.2" r="6" stroke="#8a8a8a" stroke-width="2.0" fill="none"/>
<line x1="715.5" y1="748.2" x2="715.5" y2="772.2" stroke="#555" stroke-width="0.7" stroke-dasharray="3 1.5 1 1.5"/>
<circle cx="859" cy="760.2" r="4.9" stroke="#8a8a8a" stroke-width="1.9" fill="none"/>
<line x1="859" y1="748.2" x2="859" y2="772.2" stroke="#555" stroke-width="0.7" stroke-dasharray="3 1.5 1 1.5"/>
<rect x="871.3" y="753.6" width="10.2" height="13.2" rx="5.1" ry="5.1" stroke="#8a8a8a" stroke-width="1.9" fill="none"/>
<line x1="876.4" y1="748.2" x2="876.4" y2="772.2" stroke="#555" stroke-width="0.7" stroke-dasharray="3 1.5 1 1.5"/>
<circle cx="913.6" cy="760.2" r="4.9" stroke="#8a8a8a" stroke-width="1.9" fill="none"/>
<circle cx="930.6" cy="760.2" r="6" stroke="#8a8a8a" stroke-width="2.0" fill="none"/>
<circle cx="944.4" cy="760.2" r="4.9" stroke="#8a8a8a" stroke-width="1.9" fill="none"/>
<text x="996.7" y="742.3" font-size="19.3" font-weight="bold" font-style="normal" fill="#1c1c1c" text-anchor="end" >550</text>
<path d="M54.6,811.1 Q54.6,805.8 60,805.8 L112.5,805.8 L118.5,811.6 L129,811.6 C134,811.6 136,818.2 141,818.2 L1026.6,818.2 C1051.6,818.6 1066.6,821.6 1072.6,824.6 Q1075.6,826.2 1078.6,826.2 L1086.6,826.2 L1086.6,856.6 L1082.6,856.6 L1075.6,860 C1061.6,860.6 1046.6,860.1 1036.6,858.1 C1030.6,856.1 1026.6,855.2 1020.6,855.2 L104,855.2 L90,863.6 L60,863.6 Q54.6,863.6 54.6,858.6 Z" stroke="#8a8a8a" stroke-width="1.3" fill="none" stroke-linejoin="round"/>
<path d="M1065.6,821.6 L91,821.6 Q89,821.6 89,823.7 Q89,825.7 91,825.7 L1075.6,825.7" stroke="#999" stroke-width="1.0" fill="none" stroke-linejoin="round"/>
<path d="M91,847.4 L1081.6,847.4 Q1083.6,847.4 1083.6,849.5 Q1083.6,851.6 1081.6,851.6 L91,851.6 Q89,851.6 89,849.5 Q89,847.4 91,847.4 Z" stroke="#999" stroke-width="1.0" fill="none" stroke-linejoin="round"/>
<path d="M1040.6,853.8 L1073.6,853.8 Q1078.6,854.2 1074.6,857.8 Q1070.6,859.8 1056.6,859.2 Q1042.6,858.2 1039.6,855.6 Q1037.6,853.8 1040.6,853.8 Z" stroke="#8e8e8e" stroke-width="1.1" fill="none" stroke-linejoin="round"/>
<circle cx="71.7" cy="844.8" r="15.8" stroke="#8a8a8a" stroke-width="1.1" fill="none"/>
<circle cx="71.7" cy="844.8" r="10" stroke="#8a8a8a" stroke-width="1.1" fill="none"/>
<circle cx="71.7" cy="844.8" r="7.2" stroke="#8a8a8a" stroke-width="1.1" fill="none"/>
<rect x="57.5" y="809.2" width="9" height="12.6" rx="4.5" ry="4.5" stroke="#8a8a8a" stroke-width="1.5" fill="none"/>
<circle cx="75.8" cy="815.5" r="5.3" stroke="#8a8a8a" stroke-width="1.5" fill="none"/>
<line x1="50" y1="815.5" x2="87" y2="815.5" stroke="#555" stroke-width="0.7" stroke-dasharray="4 1.5 1 1.5"/>
<line x1="62" y1="803.6" x2="62" y2="827.6" stroke="#555" stroke-width="0.7" stroke-dasharray="3 1.5 1 1.5"/>
<line x1="75.8" y1="803.6" x2="75.8" y2="827.6" stroke="#555" stroke-width="0.7" stroke-dasharray="3 1.5 1 1.5"/>
<text x="98.6" y="817.8" font-size="10.8" font-weight="bold" font-style="normal" fill="#707070" text-anchor="start" >L</text>
<line x1="45" y1="836.6" x2="1089" y2="836.6" stroke="#555" stroke-width="0.8" stroke-dasharray="2.3 1.7 0.6 1.7"/>
<circle cx="97" cy="836.6" r="4.9" stroke="#8a8a8a" stroke-width="1.9" fill="none"/>
<line x1="97" y1="824.6" x2="97" y2="848.6" stroke="#555" stroke-width="0.7" stroke-dasharray="3 1.5 1 1.5"/>
<circle cx="114.3" cy="836.6" r="6" stroke="#8a8a8a" stroke-width="2.0" fill="none"/>
<line x1="114.3" y1="824.6" x2="114.3" y2="848.6" stroke="#555" stroke-width="0.7" stroke-dasharray="3 1.5 1 1.5"/>
<circle cx="139.5" cy="836.6" r="6" stroke="#8a8a8a" stroke-width="2.0" fill="none"/>
<line x1="139.5" y1="824.6" x2="139.5" y2="848.6" stroke="#555" stroke-width="0.7" stroke-dasharray="3 1.5 1 1.5"/>
<rect x="163.4" y="830" width="10.2" height="13.2" rx="5.1" ry="5.1" stroke="#8a8a8a" stroke-width="1.9" fill="none"/>
<line x1="168.5" y1="824.6" x2="168.5" y2="848.6" stroke="#555" stroke-width="0.7" stroke-dasharray="3 1.5 1 1.5"/>
<circle cx="315.5" cy="836.6" r="4.9" stroke="#8a8a8a" stroke-width="1.9" fill="none"/>
<line x1="315.5" y1="824.6" x2="315.5" y2="848.6" stroke="#555" stroke-width="0.7" stroke-dasharray="3 1.5 1 1.5"/>
<circle cx="332.5" cy="836.6" r="6" stroke="#8a8a8a" stroke-width="2.0" fill="none"/>
<line x1="332.5" y1="824.6" x2="332.5" y2="848.6" stroke="#555" stroke-width="0.7" stroke-dasharray="3 1.5 1 1.5"/>
<circle cx="387.5" cy="836.6" r="4.9" stroke="#8a8a8a" stroke-width="1.9" fill="none"/>
<line x1="387.5" y1="824.6" x2="387.5" y2="848.6" stroke="#555" stroke-width="0.7" stroke-dasharray="3 1.5 1 1.5"/>
<circle cx="479.9" cy="836.6" r="4.9" stroke="#8a8a8a" stroke-width="1.9" fill="none"/>
<line x1="479.9" y1="824.6" x2="479.9" y2="848.6" stroke="#555" stroke-width="0.7" stroke-dasharray="3 1.5 1 1.5"/>
<circle cx="496.8" cy="836.6" r="6" stroke="#8a8a8a" stroke-width="2.0" fill="none"/>
<line x1="496.8" y1="824.6" x2="496.8" y2="848.6" stroke="#555" stroke-width="0.7" stroke-dasharray="3 1.5 1 1.5"/>
<circle cx="551.6" cy="836.6" r="6" stroke="#8a8a8a" stroke-width="2.0" fill="none"/>
<line x1="551.6" y1="824.6" x2="551.6" y2="848.6" stroke="#555" stroke-width="0.7" stroke-dasharray="3 1.5 1 1.5"/>
<circle cx="589.9" cy="836.6" r="4.9" stroke="#8a8a8a" stroke-width="1.9" fill="none"/>
<line x1="589.9" y1="825.6" x2="589.9" y2="847.6" stroke="#666" stroke-width="0.8"/>
<circle cx="606.7" cy="836.6" r="6" stroke="#8a8a8a" stroke-width="2.0" fill="none"/>
<line x1="606.7" y1="824.6" x2="606.7" y2="848.6" stroke="#555" stroke-width="0.7" stroke-dasharray="3 1.5 1 1.5"/>
<circle cx="698.6" cy="836.6" r="4.9" stroke="#8a8a8a" stroke-width="1.9" fill="none"/>
<line x1="698.6" y1="824.6" x2="698.6" y2="848.6" stroke="#555" stroke-width="0.7" stroke-dasharray="3 1.5 1 1.5"/>
<circle cx="715.5" cy="836.6" r="6" stroke="#8a8a8a" stroke-width="2.0" fill="none"/>
<line x1="715.5" y1="824.6" x2="715.5" y2="848.6" stroke="#555" stroke-width="0.7" stroke-dasharray="3 1.5 1 1.5"/>
<circle cx="859" cy="836.6" r="4.9" stroke="#8a8a8a" stroke-width="1.9" fill="none"/>
<line x1="859" y1="824.6" x2="859" y2="848.6" stroke="#555" stroke-width="0.7" stroke-dasharray="3 1.5 1 1.5"/>
<rect x="871.1" y="830" width="10.2" height="13.2" rx="5.1" ry="5.1" stroke="#8a8a8a" stroke-width="1.9" fill="none"/>
<line x1="876.2" y1="824.6" x2="876.2" y2="848.6" stroke="#555" stroke-width="0.7" stroke-dasharray="3 1.5 1 1.5"/>
<circle cx="913.7" cy="836.6" r="4.9" stroke="#8a8a8a" stroke-width="1.9" fill="none"/>
<line x1="913.7" y1="824.6" x2="913.7" y2="848.6" stroke="#555" stroke-width="0.7" stroke-dasharray="3 1.5 1 1.5"/>
<circle cx="931" cy="836.6" r="6" stroke="#8a8a8a" stroke-width="2.0" fill="none"/>
<line x1="931" y1="824.6" x2="931" y2="848.6" stroke="#555" stroke-width="0.7" stroke-dasharray="3 1.5 1 1.5"/>
<circle cx="969" cy="836.6" r="4.9" stroke="#8a8a8a" stroke-width="1.9" fill="none"/>
<line x1="969" y1="824.6" x2="969" y2="848.6" stroke="#555" stroke-width="0.7" stroke-dasharray="3 1.5 1 1.5"/>
<circle cx="986.3" cy="836.6" r="6" stroke="#8a8a8a" stroke-width="2.0" fill="none"/>
<line x1="986.3" y1="824.6" x2="986.3" y2="848.6" stroke="#555" stroke-width="0.7" stroke-dasharray="3 1.5 1 1.5"/>
<circle cx="1041" cy="836.6" r="4.9" stroke="#8a8a8a" stroke-width="1.9" fill="none"/>
<line x1="1041" y1="824.6" x2="1041" y2="848.6" stroke="#555" stroke-width="0.7" stroke-dasharray="3 1.5 1 1.5"/>
<text x="1088.9" y="817.7" font-size="19.3" font-weight="bold" font-style="normal" fill="#1c1c1c" text-anchor="end" >600</text>
<text x="51.2" y="256.5" font-size="12.8" font-weight="bold" fill="#1c1c1c">кромка боковой стенки</text>
<text x="204.3" y="256.5" font-size="12.8" font-weight="bold" fill="#8a8a8a">/ sidewall edge</text>
<circle cx="709.2" cy="54.6" r="9" fill="#e31e24"/>
<circle cx="709.2" cy="106.75" r="9" fill="#ffed00"/>
<circle cx="708.9" cy="158.9" r="9.1" fill="#0f9d48"/>
<text x="725.3" y="56" font-size="15.2" fill="#1e1e1e"><tspan font-weight="bold">A</tspan> - Отверстия Ø 5,5 для монтажа направляющей</text>
<text x="725.3" y="74.4" font-size="15.2" fill="#1e1e1e">при помощи саморезов 3,5х16 мм.</text>
<text x="725.3" y="110" font-size="15.2" fill="#1e1e1e"><tspan font-weight="bold">B</tspan> - Отверстия Ø 6,5 для монтажа направляющей</text>
<text x="725.3" y="128.4" font-size="15.2" fill="#1e1e1e">при помощи саморезов 4х16 мм.</text>
<text x="725.3" y="164.9" font-size="15.2" fill="#1e1e1e"><tspan font-weight="bold">C</tspan> - Отверстие Ø 5,5 для установки фиксирующего</text>
<text x="725.3" y="183.4" font-size="15.2" fill="#1e1e1e">самореза. Установка фиксирующего самореза</text>
<text x="725.3" y="201.9" font-size="15.2" fill="#1e1e1e">обязательна, для корректной работы</text>
<text x="725.3" y="220.4" font-size="15.2" fill="#1e1e1e">направляющей.</text>
<text y="34.8" font-size="13.2" font-weight="bold" fill="#1c1c1c"><tspan x="68.5" font-size="14.3">CL</tspan><tspan x="91.4">(левая к стенке)</tspan><tspan x="198.5" fill="#8c8c8c" font-size="14.3">CL</tspan><tspan x="220.8" fill="#8c8c8c">(left to a wall)</tspan></text>
<text y="35.3" font-size="13.2" font-weight="bold" fill="#1c1c1c"><tspan x="406.3" font-size="14.3">CR</tspan><tspan x="430.8">(правая к стенке)</tspan><tspan x="547.3" fill="#8c8c8c" font-size="14.3">CR</tspan><tspan x="571.5" fill="#8c8c8c">(right to a wall)</tspan></text>
<path d="M90.8,89 Q90.8,80.3 99,80.3 L193.5,80.3 C198,80.3 199,89.5 204,89.5 L231,89.5 C238,89.5 240,98.5 246,98.5 L330.8,98.5" stroke="#8c8c8c" stroke-width="1.1" fill="none" stroke-linejoin="round"/>
<path d="M232,90.6 C241,90.6 243,102.3 250,102.3 L331,102.3" stroke="#8c8c8c" stroke-width="1.0" fill="none" stroke-linejoin="round"/>
<path d="M330.8,96 C337,116 346,138 349.5,160 L349.5,176" stroke="#8c8c8c" stroke-width="0.9" fill="none" stroke-linejoin="round"/>
<path d="M90.8,89 L90.8,176 Q90.8,183.2 98,183.2 L154.4,183.2 C166,183.2 180,167.9 199,167.9 L349.5,167.9" stroke="#8c8c8c" stroke-width="1.1" fill="none" stroke-linejoin="round"/>
<path d="M157.5,183.2 C169,183.2 182,171.8 199,171.8 L349.5,171.8" stroke="#8c8c8c" stroke-width="1.0" fill="none" stroke-linejoin="round"/>
<path d="M333.5,107.6 L157.6,107.6 A3.9,3.9 0 0 0 157.6,115.4 L336.2,115.4" stroke="#8c8c8c" stroke-width="1.0" fill="none" stroke-linejoin="round"/>
<path d="M346.5,154.4 L157.6,154.4 A4.15,4.15 0 0 0 157.6,162.7 L348.5,162.7" stroke="#8c8c8c" stroke-width="1.0" fill="none" stroke-linejoin="round"/>
<circle cx="121.6" cy="150" r="28.6" stroke="#8c8c8c" stroke-width="1.0" fill="none"/>
<circle cx="121.6" cy="150" r="17.7" stroke="#8c8c8c" stroke-width="1.0" fill="none"/>
<circle cx="121.6" cy="150" r="12.4" stroke="#8c8c8c" stroke-width="1.0" fill="none"/>
<rect x="95.7" y="84.5" width="18" height="25" rx="7.56" ry="7.56" stroke="#8c8c8c" stroke-width="0.9" fill="none"/>
<rect x="97.9" y="86.7" width="13.6" height="20.6" rx="5.71" ry="5.71" stroke="#8c8c8c" stroke-width="0.9" fill="none"/>
<rect x="285.85" y="121.75" width="21.7" height="27" rx="9.11" ry="9.11" stroke="#8c8c8c" stroke-width="0.9" fill="none"/>
<rect x="288.2" y="124.65" width="17" height="21.2" rx="7.14" ry="7.14" stroke="#8c8c8c" stroke-width="0.9" fill="none"/>
<text x="169.6" y="101.9" font-size="19.2" font-weight="bold" font-style="normal" fill="#7c7c7c" text-anchor="start" >L</text>
<line x1="81.5" y1="73.7" x2="81.5" y2="205.1" stroke="#5a5a5a" stroke-width="1.6"/>
<line x1="52.7" y1="80.3" x2="100" y2="80.3" stroke="#666" stroke-width="0.7" stroke-dasharray="2.5 2"/>
<line x1="50.6" y1="183.2" x2="98" y2="183.2" stroke="#666" stroke-width="0.7" stroke-dasharray="2.5 2"/>
<line x1="77.3" y1="97" x2="153" y2="97" stroke="#555" stroke-width="0.7" stroke-dasharray="3.5 1.4 0.7 1.4"/>
<line x1="74" y1="135.2" x2="356" y2="135.2" stroke="#555" stroke-width="0.7" stroke-dasharray="3.5 1.4 0.7 1.4"/>
<line x1="90.8" y1="62" x2="90.8" y2="232" stroke="#666" stroke-width="0.7" stroke-dasharray="2.5 2"/>
<line x1="104.7" y1="58" x2="104.7" y2="114" stroke="#555" stroke-width="0.7" stroke-dasharray="3 2 1 2"/>
<line x1="129" y1="62" x2="129" y2="114" stroke="#555" stroke-width="0.7" stroke-dasharray="3 2 1 2"/>
<line x1="167.5" y1="122" x2="167.5" y2="201" stroke="#555" stroke-width="0.7" stroke-dasharray="3 2 1 2"/>
<line x1="198.3" y1="117.6" x2="198.3" y2="214" stroke="#555" stroke-width="0.7" stroke-dasharray="3 2 1 2"/>
<line x1="296.6" y1="117.6" x2="296.6" y2="226" stroke="#555" stroke-width="0.7" stroke-dasharray="3 2 1 2"/>
<circle cx="129" cy="97" r="10.6" stroke="#b5b5b5" stroke-width="0.7" fill="none"/>
<circle cx="129" cy="97" r="9" fill="#0f9d48"/>
<circle cx="167.5" cy="135.2" r="10" stroke="#b5b5b5" stroke-width="0.7" fill="none"/>
<circle cx="167.5" cy="135.2" r="8.1" fill="#e31e24"/>
<circle cx="198.3" cy="135.25" r="12.2" stroke="#b5b5b5" stroke-width="0.7" fill="none"/>
<circle cx="198.3" cy="135.25" r="10.1" fill="#ffed00"/>
<line x1="164" y1="62.3" x2="114.09" y2="111.79" stroke="#1c1c1c" stroke-width="0.8"/>
<polygon points="135.39,90.66 138.32,84.38 141.7,87.79" fill="#1c1c1c"/>
<polygon points="122.61,103.34 119.68,109.62 116.3,106.21" fill="#1c1c1c"/>
<line x1="240.4" y1="62.6" x2="152.27" y2="150.37" stroke="#1c1c1c" stroke-width="0.8"/>
<polygon points="173.24,129.48 176.15,123.2 179.54,126.6" fill="#1c1c1c"/>
<polygon points="161.76,140.92 158.85,147.2 155.46,143.8" fill="#1c1c1c"/>
<line x1="270" y1="62.6" x2="183.55" y2="150.2" stroke="#1c1c1c" stroke-width="0.8"/>
<polygon points="205.39,128.06 208.25,121.75 211.67,125.12" fill="#1c1c1c"/>
<polygon points="191.21,142.44 188.35,148.75 184.93,145.38" fill="#1c1c1c"/>
<line x1="67.3" y1="62.3" x2="159.3" y2="62.3" stroke="#1c1c1c" stroke-width="0.8"/>
<polygon points="90.8,62.3 84.3,59.8 84.3,64.8" fill="#1c1c1c"/>
<polygon points="129,62.3 135.5,59.8 135.5,64.8" fill="#1c1c1c"/>
<line x1="102" y1="65.3" x2="107.5" y2="59.3" stroke="#1c1c1c" stroke-width="0.7"/>
<line x1="164" y1="62.3" x2="200.7" y2="62.3" stroke="#1c1c1c" stroke-width="0.8"/>
<line x1="240.4" y1="62.6" x2="267.2" y2="62.6" stroke="#1c1c1c" stroke-width="0.8"/>
<line x1="270" y1="62.6" x2="306.5" y2="62.6" stroke="#1c1c1c" stroke-width="0.8"/>
<text x="67.3" y="59.7" font-size="15" font-style="italic" fill="#1c1c1c" text-anchor="start" >4,5</text>
<text x="134" y="59.7" font-size="15" font-style="italic" fill="#1c1c1c" text-anchor="start" >12,5</text>
<text x="168.7" y="59.7" font-size="15" font-style="italic" fill="#1c1c1c" text-anchor="start" >ø 5,5</text>
<text x="238.5" y="59.2" font-size="15" font-style="italic" fill="#1c1c1c" text-anchor="start" >ø 5,5</text>
<text x="275.8" y="59.2" font-size="15" font-style="italic" fill="#1c1c1c" text-anchor="start" >ø 6,5</text>
<line x1="56.2" y1="80.3" x2="56.2" y2="183.2" stroke="#1c1c1c" stroke-width="0.8"/>
<polygon points="56.2,80.3 53.7,86.8 58.7,86.8" fill="#1c1c1c"/>
<polygon points="56.2,183.2 53.7,176.7 58.7,176.7" fill="#1c1c1c"/>
<text x="0" y="0" font-size="15" font-style="italic" fill="#1c1c1c" text-anchor="middle" transform="translate(53.8,135.3) rotate(-90)">35</text>
<line x1="72.5" y1="97" x2="72.5" y2="135.2" stroke="#1c1c1c" stroke-width="0.8"/>
<polygon points="72.5,97 70,103.5 75,103.5" fill="#1c1c1c"/>
<polygon points="72.5,135.2 70,128.7 75,128.7" fill="#1c1c1c"/>
<text x="0" y="0" font-size="15" font-style="italic" fill="#1c1c1c" text-anchor="middle" transform="translate(69,116.8) rotate(-90)">12,5</text>
<text x="62.5" y="195.5" font-size="15.5" font-weight="bold" font-style="italic" fill="#1c1c1c" text-anchor="start" >3</text>
<line x1="60.5" y1="198.8" x2="72" y2="198.8" stroke="#1c1c1c" stroke-width="1.1"/>
<polygon points="81.5,198.8 71,194.2 71,203.4" fill="#1c1c1c"/>
<line x1="90.8" y1="198.8" x2="167.5" y2="198.8" stroke="#1c1c1c" stroke-width="0.8"/>
<polygon points="90.8,198.8 97.3,196.2 97.3,201.4" fill="#1c1c1c"/>
<polygon points="167.5,198.8 161,196.2 161,201.4" fill="#1c1c1c"/>
<text x="122.6" y="195.2" font-size="15" font-style="italic" fill="#1c1c1c" text-anchor="middle" >25</text>
<line x1="90.8" y1="212.9" x2="198.3" y2="212.9" stroke="#1c1c1c" stroke-width="0.8"/>
<polygon points="90.8,212.9 97.3,210.3 97.3,215.5" fill="#1c1c1c"/>
<polygon points="198.3,212.9 191.8,210.3 191.8,215.5" fill="#1c1c1c"/>
<text x="143.8" y="210" font-size="15" font-style="italic" fill="#1c1c1c" text-anchor="middle" >35</text>
<line x1="90.8" y1="224.2" x2="296.6" y2="224.2" stroke="#1c1c1c" stroke-width="0.8"/>
<polygon points="90.8,224.2 97.3,221.6 97.3,226.8" fill="#1c1c1c"/>
<polygon points="296.6,224.2 290.1,221.6 290.1,226.8" fill="#1c1c1c"/>
<text x="239.4" y="221" font-size="15" font-style="italic" fill="#1c1c1c" text-anchor="middle" >67</text>
<path d="M406.4,101.25 L473.5,101.25 C481,101.25 482,93.7 489,93.7 L516.7,93.7 C523,93.7 522,82.5 529,82.5 L621,82.5 L630.8,91 L630.8,180 Q630.8,186.6 624,186.6 L567,186.6 C560,186.6 552,174.2 540,174.2 L389,174.2" stroke="#8c8c8c" stroke-width="1.1" fill="none" stroke-linejoin="round"/>
<path d="M404.8,114.9 L466.8,114.9 C475,114.9 480,93.7 493,93.7" stroke="#8c8c8c" stroke-width="1.0" fill="none" stroke-linejoin="round"/>
<path d="M406.2,98 C405.8,110 402.5,121 398.2,131 C393,143 388.3,156 388,180" stroke="#8c8c8c" stroke-width="0.9" fill="none" stroke-linejoin="round"/>
<path d="M389,171.3 L545,171.3" stroke="#8c8c8c" stroke-width="1.0" fill="none" stroke-linejoin="round"/>
<path d="M389,157 L564,157 A4.3,4.3 0 0 1 564,165.5 L389,165.5" stroke="#8c8c8c" stroke-width="1.0" fill="none" stroke-linejoin="round"/>
<circle cx="600.1" cy="151.2" r="28.3" stroke="#8c8c8c" stroke-width="1.0" fill="none"/>
<circle cx="600.1" cy="151.2" r="16.8" stroke="#8c8c8c" stroke-width="1.0" fill="none"/>
<circle cx="600.1" cy="151.2" r="12.5" stroke="#8c8c8c" stroke-width="1.0" fill="none"/>
<rect x="609.1" y="87.4" width="17.2" height="24" rx="7.22" ry="7.22" stroke="#8c8c8c" stroke-width="0.9" fill="none"/>
<rect x="611.2" y="89.4" width="13" height="20" rx="5.46" ry="5.46" stroke="#8c8c8c" stroke-width="0.9" fill="none"/>
<rect x="414.5" y="124.8" width="21.4" height="27" rx="8.99" ry="8.99" stroke="#8c8c8c" stroke-width="0.9" fill="none"/>
<rect x="416.7" y="127.2" width="17" height="22.2" rx="7.14" ry="7.14" stroke="#8c8c8c" stroke-width="0.9" fill="none"/>
<text x="543.6" y="104.1" font-size="18.6" font-weight="bold" font-style="normal" fill="#7a7a7a" text-anchor="start" >R</text>
<line x1="640.2" y1="75.5" x2="640.2" y2="206.7" stroke="#5a5a5a" stroke-width="1.6"/>
<line x1="620" y1="82.5" x2="679" y2="82.5" stroke="#666" stroke-width="0.7" stroke-dasharray="2.5 2"/>
<line x1="567" y1="186.6" x2="679" y2="186.6" stroke="#666" stroke-width="0.7" stroke-dasharray="2.5 2"/>
<line x1="568" y1="99.4" x2="661" y2="99.4" stroke="#555" stroke-width="0.7" stroke-dasharray="3.5 1.4 0.7 1.4"/>
<line x1="389" y1="138" x2="660" y2="138" stroke="#555" stroke-width="0.7" stroke-dasharray="3.5 1.4 0.7 1.4"/>
<line x1="630.8" y1="62" x2="630.8" y2="232" stroke="#666" stroke-width="0.7" stroke-dasharray="2.5 2"/>
<line x1="592.4" y1="62" x2="592.4" y2="116" stroke="#555" stroke-width="0.7" stroke-dasharray="3 2 1 2"/>
<line x1="617.7" y1="58" x2="617.7" y2="116" stroke="#555" stroke-width="0.7" stroke-dasharray="3 2 1 2"/>
<line x1="554.1" y1="120" x2="554.1" y2="205" stroke="#555" stroke-width="0.7" stroke-dasharray="3 2 1 2"/>
<line x1="524" y1="120" x2="524" y2="216" stroke="#555" stroke-width="0.7" stroke-dasharray="3 2 1 2"/>
<line x1="425.2" y1="120" x2="425.2" y2="228" stroke="#555" stroke-width="0.7" stroke-dasharray="3 2 1 2"/>
<circle cx="592.4" cy="99.4" r="10" stroke="#b5b5b5" stroke-width="0.7" fill="none"/>
<circle cx="592.4" cy="99.4" r="8.3" fill="#0f9d48"/>
<circle cx="554.1" cy="137.7" r="10" stroke="#b5b5b5" stroke-width="0.7" fill="none"/>
<circle cx="554.1" cy="137.7" r="8.3" fill="#e31e24"/>
<circle cx="524" cy="138.3" r="11.5" stroke="#b5b5b5" stroke-width="0.7" fill="none"/>
<circle cx="524" cy="138.3" r="9.8" fill="#ffed00"/>
<line x1="557.4" y1="64.5" x2="606.92" y2="113.87" stroke="#1c1c1c" stroke-width="0.8"/>
<polygon points="586.52,93.54 580.23,90.65 583.61,87.25" fill="#1c1c1c"/>
<polygon points="598.28,105.26 604.57,108.15 601.19,111.55" fill="#1c1c1c"/>
<line x1="481.7" y1="64.5" x2="568.52" y2="152.28" stroke="#1c1c1c" stroke-width="0.8"/>
<polygon points="548.26,131.8 541.99,128.87 545.4,125.49" fill="#1c1c1c"/>
<polygon points="559.94,143.6 566.21,146.53 562.8,149.91" fill="#1c1c1c"/>
<line x1="451.9" y1="64.5" x2="537.63" y2="152.25" stroke="#1c1c1c" stroke-width="0.8"/>
<polygon points="517.15,131.29 510.89,128.32 514.33,124.96" fill="#1c1c1c"/>
<polygon points="530.85,145.31 537.11,148.28 533.67,151.64" fill="#1c1c1c"/>
<line x1="415.75" y1="64.5" x2="451.9" y2="64.5" stroke="#1c1c1c" stroke-width="0.8"/>
<line x1="454.25" y1="64.5" x2="481.7" y2="64.5" stroke="#1c1c1c" stroke-width="0.8"/>
<line x1="521" y1="64.5" x2="557.4" y2="64.5" stroke="#1c1c1c" stroke-width="0.8"/>
<line x1="561.2" y1="64.5" x2="654.2" y2="64.5" stroke="#1c1c1c" stroke-width="0.8"/>
<polygon points="592.4,64.5 585.9,62 585.9,67" fill="#1c1c1c"/>
<polygon points="630.8,64.5 637.3,62 637.3,67" fill="#1c1c1c"/>
<line x1="615" y1="67.5" x2="620.5" y2="61.5" stroke="#1c1c1c" stroke-width="0.7"/>
<text x="412.8" y="61.6" font-size="15" font-style="italic" fill="#1c1c1c" text-anchor="start" >ø 6,5</text>
<text x="450.2" y="61.6" font-size="15" font-style="italic" fill="#1c1c1c" text-anchor="start" >ø 5,5</text>
<text x="521" y="61.1" font-size="15" font-style="italic" fill="#1c1c1c" text-anchor="start" >ø 5,5</text>
<text x="561.2" y="61.1" font-size="15" font-style="italic" fill="#1c1c1c" text-anchor="start" >12,5</text>
<text x="637.9" y="61.1" font-size="15" font-style="italic" fill="#1c1c1c" text-anchor="start" >4,5</text>
<line x1="675.2" y1="82.5" x2="675.2" y2="186.6" stroke="#1c1c1c" stroke-width="0.8"/>
<polygon points="675.2,82.5 672.7,89 677.7,89" fill="#1c1c1c"/>
<polygon points="675.2,186.6 672.7,180.1 677.7,180.1" fill="#1c1c1c"/>
<text x="0" y="0" font-size="15" font-style="italic" fill="#1c1c1c" text-anchor="middle" transform="translate(673.5,136.8) rotate(-90)">36</text>
<line x1="657.6" y1="99.4" x2="657.6" y2="137.7" stroke="#1c1c1c" stroke-width="0.8"/>
<polygon points="657.6,99.4 655.1,105.9 660.1,105.9" fill="#1c1c1c"/>
<polygon points="657.6,137.7 655.1,131.2 660.1,131.2" fill="#1c1c1c"/>
<text x="0" y="0" font-size="15" font-style="italic" fill="#1c1c1c" text-anchor="middle" transform="translate(655,118.6) rotate(-90)">12,5</text>
<text x="651.2" y="197.8" font-size="15.8" font-weight="bold" font-style="italic" fill="#1c1c1c" text-anchor="start" >3</text>
<line x1="649" y1="200" x2="661" y2="200" stroke="#1c1c1c" stroke-width="1.1"/>
<polygon points="640.2,200 650.7,195.4 650.7,204.6" fill="#1c1c1c"/>
<line x1="554.1" y1="200" x2="630.8" y2="200" stroke="#1c1c1c" stroke-width="0.8"/>
<polygon points="554.1,200 560.6,197.4 560.6,202.6" fill="#1c1c1c"/>
<polygon points="630.8,200 624.3,197.4 624.3,202.6" fill="#1c1c1c"/>
<text x="607.2" y="198.1" font-size="15" font-style="italic" fill="#1c1c1c" text-anchor="middle" >25</text>
<line x1="524" y1="214.4" x2="630.8" y2="214.4" stroke="#1c1c1c" stroke-width="0.8"/>
<polygon points="524,214.4 530.5,211.8 530.5,217" fill="#1c1c1c"/>
<polygon points="630.8,214.4 624.3,211.8 624.3,217" fill="#1c1c1c"/>
<text x="581" y="211.5" font-size="15" font-style="italic" fill="#1c1c1c" text-anchor="middle" >35</text>
<line x1="425.2" y1="225.5" x2="630.8" y2="225.5" stroke="#1c1c1c" stroke-width="0.8"/>
<polygon points="425.2,225.5 431.7,222.9 431.7,228.1" fill="#1c1c1c"/>
<polygon points="630.8,225.5 624.3,222.9 624.3,228.1" fill="#1c1c1c"/>
<text x="499.4" y="222.3" font-size="15" font-style="italic" fill="#1c1c1c" text-anchor="middle" >67</text>
<text x="389.3" y="207.8" font-size="18" font-weight="bold" font-style="normal" fill="#1c1c1c" text-anchor="start" >0</text>
<line x1="54.6" y1="888.4" x2="139.5" y2="888.4" stroke="#1c1c1c" stroke-width="0.9"/>
<polygon points="54.6,888.4 61.1,885.8 61.1,891" fill="#1c1c1c"/>
<polygon points="139.5,888.4 133,885.8 133,891" fill="#1c1c1c"/>
<text x="99" y="886" font-size="15" font-weight="normal" font-style="italic" fill="#1c1c1c" text-anchor="middle" >50</text>
<line x1="54.6" y1="908.4" x2="114.3" y2="908.4" stroke="#1c1c1c" stroke-width="0.9"/>
<polygon points="54.6,908.4 61.1,905.8 61.1,911" fill="#1c1c1c"/>
<polygon points="114.3,908.4 107.8,905.8 107.8,911" fill="#1c1c1c"/>
<text x="85" y="906" font-size="15" font-weight="normal" font-style="italic" fill="#1c1c1c" text-anchor="middle" >35</text>
<line x1="114.3" y1="908.4" x2="332.5" y2="908.4" stroke="#1c1c1c" stroke-width="0.9"/>
<polygon points="114.3,908.4 120.8,905.8 120.8,911" fill="#1c1c1c"/>
<polygon points="332.5,908.4 326,905.8 326,911" fill="#1c1c1c"/>
<text x="219.5" y="906.5" font-size="15" font-weight="normal" font-style="italic" fill="#1c1c1c" text-anchor="middle" >128</text>
<line x1="114.3" y1="922" x2="496.8" y2="922" stroke="#1c1c1c" stroke-width="0.9"/>
<polygon points="114.3,922 120.8,919.4 120.8,924.6" fill="#1c1c1c"/>
<polygon points="496.8,922 490.3,919.4 490.3,924.6" fill="#1c1c1c"/>
<text x="239.5" y="920.2" font-size="15" font-weight="normal" font-style="italic" fill="#1c1c1c" text-anchor="middle" >224</text>
<line x1="114.3" y1="935.3" x2="715.5" y2="935.3" stroke="#1c1c1c" stroke-width="0.9"/>
<polygon points="114.3,935.3 120.8,932.7 120.8,937.9" fill="#1c1c1c"/>
<polygon points="715.5,935.3 709,932.7 709,937.9" fill="#1c1c1c"/>
<text x="262.7" y="933.5" font-size="15" font-weight="normal" font-style="italic" fill="#1c1c1c" text-anchor="middle" >352</text>
<line x1="114.3" y1="948.2" x2="931" y2="948.2" stroke="#1c1c1c" stroke-width="0.9"/>
<polygon points="114.3,948.2 120.8,945.6 120.8,950.8" fill="#1c1c1c"/>
<polygon points="931,948.2 924.5,945.6 924.5,950.8" fill="#1c1c1c"/>
<text x="281.3" y="946.8" font-size="15" font-weight="normal" font-style="italic" fill="#1c1c1c" text-anchor="middle" >480</text>
<line x1="285.5" y1="888.4" x2="315.5" y2="888.4" stroke="#1c1c1c" stroke-width="0.9"/>
<polygon points="315.5,888.4 309,885.8 309,891" fill="#1c1c1c"/>
<text x="299" y="886.2" font-size="15" font-weight="normal" font-style="italic" fill="#1c1c1c" text-anchor="middle" >10</text>
<line x1="332.5" y1="888.4" x2="387.5" y2="888.4" stroke="#1c1c1c" stroke-width="0.9"/>
<polygon points="332.5,888.4 339,885.8 339,891" fill="#1c1c1c"/>
<polygon points="387.5,888.4 381,885.8 381,891" fill="#1c1c1c"/>
<text x="361.5" y="886.2" font-size="15" font-weight="normal" font-style="italic" fill="#1c1c1c" text-anchor="middle" >32</text>
<line x1="450" y1="888.4" x2="479.9" y2="888.4" stroke="#1c1c1c" stroke-width="0.9"/>
<polygon points="479.9,888.4 473.4,885.8 473.4,891" fill="#1c1c1c"/>
<text x="463" y="886.2" font-size="15" font-weight="normal" font-style="italic" fill="#1c1c1c" text-anchor="middle" >10</text>
<line x1="496.8" y1="888.4" x2="551.6" y2="888.4" stroke="#1c1c1c" stroke-width="0.9"/>
<polygon points="496.8,888.4 503.3,885.8 503.3,891" fill="#1c1c1c"/>
<polygon points="551.6,888.4 545.1,885.8 545.1,891" fill="#1c1c1c"/>
<text x="525.5" y="886.2" font-size="15" font-weight="normal" font-style="italic" fill="#1c1c1c" text-anchor="middle" >32</text>
<line x1="551.6" y1="888.4" x2="606.7" y2="888.4" stroke="#1c1c1c" stroke-width="0.9"/>
<polygon points="551.6,888.4 558.1,885.8 558.1,891" fill="#1c1c1c"/>
<polygon points="606.7,888.4 600.2,885.8 600.2,891" fill="#1c1c1c"/>
<text x="580" y="886.2" font-size="15" font-weight="normal" font-style="italic" fill="#1c1c1c" text-anchor="middle" >32</text>
<line x1="668.6" y1="888.4" x2="698.6" y2="888.4" stroke="#1c1c1c" stroke-width="0.9"/>
<polygon points="698.6,888.4 692.1,885.8 692.1,891" fill="#1c1c1c"/>
<text x="682.5" y="886.2" font-size="15" font-weight="normal" font-style="italic" fill="#1c1c1c" text-anchor="middle" >10</text>
<line x1="715.5" y1="888.4" x2="730" y2="888.4" stroke="#1c1c1c" stroke-width="0.9"/>
<polygon points="715.5,888.4 722,885.8 722,891" fill="#1c1c1c"/>
<line x1="859" y1="888.4" x2="913.7" y2="888.4" stroke="#1c1c1c" stroke-width="0.9"/>
<polygon points="859,888.4 865.5,885.8 865.5,891" fill="#1c1c1c"/>
<polygon points="913.7,888.4 907.2,885.8 907.2,891" fill="#1c1c1c"/>
<text x="887" y="886.2" font-size="15" font-weight="normal" font-style="italic" fill="#1c1c1c" text-anchor="middle" >32</text>
<text x="921.7" y="886.2" font-size="15" font-weight="normal" font-style="italic" fill="#1c1c1c" text-anchor="middle" >10</text>
<line x1="931" y1="888.4" x2="986.3" y2="888.4" stroke="#1c1c1c" stroke-width="0.9"/>
<polygon points="931,888.4 937.5,885.8 937.5,891" fill="#1c1c1c"/>
<polygon points="986.3,888.4 979.8,885.8 979.8,891" fill="#1c1c1c"/>
<text x="959" y="886.2" font-size="15" font-weight="normal" font-style="italic" fill="#1c1c1c" text-anchor="middle" >32</text>
<line x1="315.5" y1="888.4" x2="332.5" y2="888.4" stroke="#1c1c1c" stroke-width="0.9"/>
<line x1="479.9" y1="888.4" x2="496.8" y2="888.4" stroke="#1c1c1c" stroke-width="0.9"/>
<line x1="698.6" y1="888.4" x2="715.5" y2="888.4" stroke="#1c1c1c" stroke-width="0.9"/>
<line x1="715.5" y1="722.5" x2="808.6" y2="722.5" stroke="#1c1c1c" stroke-width="0.9"/>
<polygon points="715.5,722.5 722,719.9 722,725.1" fill="#1c1c1c"/>
<polygon points="808.6,722.5 802.1,719.9 802.1,725.1" fill="#1c1c1c"/>
<text x="770" y="718.6" font-size="15" font-weight="normal" font-style="italic" fill="#1c1c1c" text-anchor="middle" >54</text>
<text x="818" y="719" font-size="14" font-weight="normal" font-style="italic" fill="#1c1c1c" text-anchor="middle" >10</text>
<line x1="826" y1="722.5" x2="843" y2="722.5" stroke="#1c1c1c" stroke-width="0.9"/>
<polygon points="826,722.5 832,720 832,725" fill="#1c1c1c"/>
<polygon points="843,722.5 837,720 837,725" fill="#1c1c1c"/>
<text x="835.5" y="719" font-size="14" font-weight="normal" font-style="italic" fill="#1c1c1c" text-anchor="middle" >11</text>
</svg></body></html>
